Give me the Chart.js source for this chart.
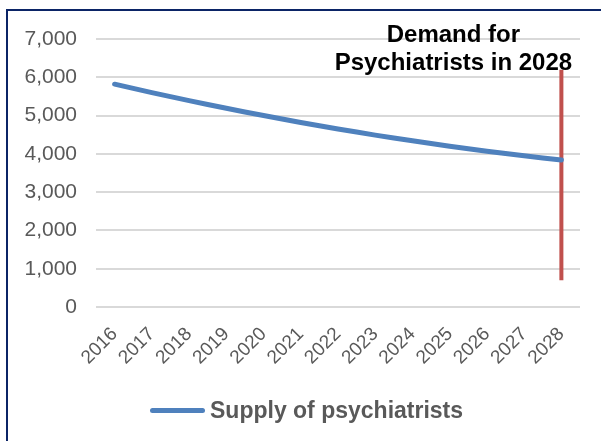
<!DOCTYPE html>
<html>
<head>
<meta charset="utf-8">
<script src="https://cdn.jsdelivr.net/npm/chart.js@4"></script>
<style>
  html, body { margin: 0; padding: 0; background: #fff; overflow: hidden; }
  #wrap { position: absolute; left: 0; top: 0; width: 601px; height: 441px; }
  #frame { position: absolute; left: 6px; top: 9px; width: 640px; height: 480px;
           border: 2px solid #0b2466; pointer-events: none; }
  #legend { position: absolute; left: 150px; top: 396px; height: 28px;
            display: flex; align-items: center;
            font: bold 23px 'Liberation Sans', Arial, sans-serif; color: #595959; }
  #legend .swatch { display: inline-block; width: 55px; height: 5px; border-radius: 3px;
                    background: #4f81bd; margin-right: 5px; }
</style>
</head>
<body>
<div id="wrap">
  <canvas id="chart" width="601" height="441"></canvas>
  <div id="legend"><span class="swatch"></span><span id="legendText"></span></div>
  <div id="frame"></div>
</div>
<script>
// years on the x axis
const years = ["2016","2017","2018","2019","2020","2021","2022","2023","2024","2025","2026","2027","2028"];
// supply of psychiatrists
const supply = [5820, 5600, 5390, 5190, 5000, 4820, 4650, 4490, 4340, 4200, 4070, 3950, 3840];
const supplyLabel = "Supply of psychiatrists";
// demand marker for 2028 (drawn as a vertical bar)
const demandYear = "2028";
const demandRange = [6200, 700];
const noteLines = ["Demand for", "Psychiatrists in 2028"];

const FONT = "'Liberation Sans', Arial, sans-serif";

document.getElementById("legendText").textContent = supplyLabel;

// annotation text above the red line
const notePlugin = {
  id: "note",
  afterDatasetsDraw(chart) {
    const ctx = chart.ctx;
    const x = chart.scales.x.getPixelForValue(years.indexOf(demandYear));
    ctx.save();
    ctx.font = "bold 24px " + FONT;
    ctx.fillStyle = "#000";
    ctx.textAlign = "center";
    ctx.textBaseline = "alphabetic";
    ctx.fillText(noteLines[0], x - 108, 42);
    ctx.fillText(noteLines[1], x - 108, 70);
    ctx.restore();
  }
};

new Chart(document.getElementById("chart"), {
  type: "line",
  data: {
    labels: years,
    datasets: [
      {
        label: supplyLabel,
        data: supply,
        borderColor: "#4f81bd",
        backgroundColor: "#4f81bd",
        borderWidth: 5,
        borderCapStyle: "round",
        tension: 0.4,
        pointRadius: 0,
        fill: false
      },
      {
        label: "Demand",
        data: demandRange.map(v => ({ x: demandYear, y: v })),
        borderColor: "#c0504d",
        borderWidth: 4,
        pointRadius: 0,
        fill: false
      }
    ]
  },
  options: {
    responsive: false,
    animation: false,
    events: [],
    layout: { padding: { left: 0, right: 21, top: 39, bottom: 54 } },
    scales: {
      x: {
        offset: true,
        grid: { display: false },
        border: { display: false },
        ticks: {
          color: "#595959",
          font: { family: FONT, size: 19 },
          minRotation: 45,
          maxRotation: 45,
          padding: 8
        },
        afterFit(s) { s.height = 80; }
      },
      y: {
        min: 0,
        max: 7000,
        grid: { color: "#d9d9d9", lineWidth: 2, drawTicks: false },
        border: { display: false },
        ticks: {
          stepSize: 1000,
          color: "#595959",
          font: { family: FONT, size: 21 },
          padding: 19,
          callback: v => v.toLocaleString("en-US")
        },
        afterFit(s) { s.width = 96; }
      }
    },
    plugins: {
      tooltip: { enabled: false },
      legend: { display: false }
    }
  },
  plugins: [notePlugin]
});
</script>
</body>
</html>
